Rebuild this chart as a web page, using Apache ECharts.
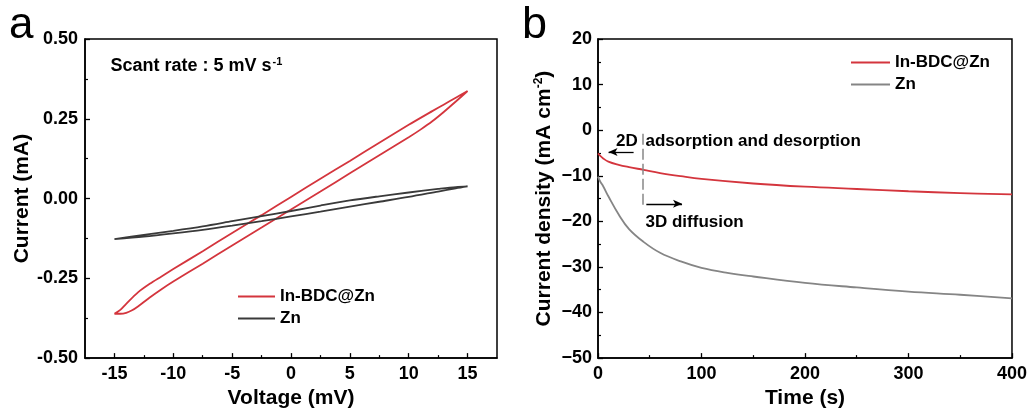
<!DOCTYPE html>
<html>
<head>
<meta charset="utf-8">
<script src="https://cdn.jsdelivr.net/npm/echarts@6/dist/echarts.min.js"></script>
<style>
html,body{margin:0;padding:0;background:#fff;}
#c{width:1030px;height:414px;}
</style>
</head>
<body>
<div id="c"></div>
<script>
// ---------- Panel a : CV loops (Voltage mV, Current mA) ----------
const cvInBDC_V = [-15,-14.5,-14,-13.5,-13,-12,-11,-10,-7.5,-5,-2.5,0,2.5,5,7.5,10,11,12,13,14,15,
                   14,13,12,10,7.5,5,2.5,0,-2.5,-5,-7.5,-10,-11,-12,-13,-14,-14.5,-15];
const cvInBDC_I = [-0.361,-0.361,-0.358,-0.350,-0.338,-0.310,-0.284,-0.260,-0.204,-0.147,-0.091,-0.034,0.022,0.079,0.136,0.192,0.216,0.242,0.272,0.304,0.337,
                   0.316,0.295,0.274,0.231,0.175,0.118,0.062,0.005,-0.052,-0.108,-0.165,-0.221,-0.244,-0.267,-0.294,-0.330,-0.349,-0.361];
const cvZn_V = [-15,-12.5,-10,-7.5,-5,-2.5,0,2.5,5,7.5,10,12.5,14,15,
                14,12.5,10,7.5,5,2.5,0,-2.5,-5,-7.5,-10,-12.5,-15];
const cvZn_I = [-0.127,-0.119,-0.109,-0.098,-0.085,-0.071,-0.056,-0.041,-0.025,-0.010,0.005,0.022,0.032,0.038,
                0.036,0.030,0.019,0.007,-0.006,-0.022,-0.039,-0.055,-0.071,-0.087,-0.101,-0.114,-0.127];
const xTicksA = [-15,-10,-5,0,5,10,15];
const xMinorA = [-12.5,-7.5,-2.5,2.5,7.5,12.5];

// ---------- Panel b : chronoamperometry (Time s, current density mA cm-2) ----------
const tInBDC = [0,2,5,10,20,30,44,60,80,100,150,200,250,300,350,400];
const jInBDC = [-5.1,-5.6,-6.2,-6.9,-7.6,-8.1,-8.7,-9.4,-10.1,-10.7,-11.7,-12.4,-12.9,-13.4,-13.8,-14.1];
const tZn = [0,2,5,10,20,30,44,60,80,100,125,150,200,250,300,350,400];
const jZn = [-10.2,-11.2,-12.3,-14.5,-18.5,-21.7,-24.5,-26.9,-28.8,-30.2,-31.3,-32.1,-33.5,-34.5,-35.4,-36.1,-36.9];

// annotation anchors (data coordinates)
const splitTime = 43.5;
const dashRange = [-0.8, -17.2];
const arrowLeft = [[34.4,-4.8],[10.2,-4.8]];
const arrowRight = [[46.7,-16.15],[81.2,-16.15]];

const RED = '#d4353d';
const DARK = '#3a3a3a';
const GRAY = '#858585';
const FONT = 'Liberation Sans, Arial, Helvetica, sans-serif';

const zip = (a,b) => a.map((v,i)=>[v,b[i]]);

const tickLbl = {color:'#000', fontSize:18, fontWeight:'bold', fontFamily:FONT};
const nameStyle = {color:'#000', fontSize:21, fontWeight:'bold', fontFamily:FONT};
const axLine = {show:true, onZero:false, lineStyle:{color:'#000', width:1.5}};

const chart = echarts.init(document.getElementById('c'), null, {renderer:'canvas'});
const option = {
  animation:false,
  backgroundColor:'#fff',
  textStyle:{fontFamily:FONT},
  grid:[
    {left:85, right:533, top:39, bottom:52, show:true, borderColor:'#000', borderWidth:1.5, backgroundColor:'transparent'},
    {left:598, right:18, top:39, bottom:52, show:true, borderColor:'#000', borderWidth:1.5, backgroundColor:'transparent'}
  ],
  xAxis:[
    {gridIndex:0, type:'value', min:-17.5, max:17.5, position:'bottom',
     axisLine:axLine,
     axisTick:{show:true, inside:true, length:5, customValues:xTicksA, lineStyle:{color:'#000', width:1.3}},
     axisLabel:{customValues:xTicksA, margin:7, ...tickLbl},
     splitLine:{show:false},
     name:'Voltage (mV)', nameLocation:'middle', nameGap:25, nameTextStyle:nameStyle},
    {gridIndex:0, type:'value', min:-17.5, max:17.5, position:'bottom',
     axisLine:{show:false, onZero:false},
     axisTick:{show:true, inside:true, length:3, customValues:xMinorA, lineStyle:{color:'#000', width:1.2}},
     axisLabel:{show:false}, splitLine:{show:false}},
    {gridIndex:1, type:'value', min:0, max:400, interval:100, position:'bottom',
     axisLine:axLine,
     axisTick:{show:true, inside:true, length:5, lineStyle:{color:'#000', width:1.3}},
     minorTick:{show:true, splitNumber:2, length:3, lineStyle:{color:'#000', width:1.2}},
     axisLabel:{margin:7, ...tickLbl},
     splitLine:{show:false},
     name:'Time (s)', nameLocation:'middle', nameGap:25, nameTextStyle:nameStyle}
  ],
  yAxis:[
    {gridIndex:0, type:'value', min:-0.5, max:0.5, interval:0.25,
     axisLine:axLine,
     axisTick:{show:true, inside:true, length:5, lineStyle:{color:'#000', width:1.3}},
     minorTick:{show:true, splitNumber:2, length:3, lineStyle:{color:'#000', width:1.2}},
     axisLabel:{margin:7, formatter:v=>v.toFixed(2), ...tickLbl},
     splitLine:{show:false},
     name:'Current (mA)', nameLocation:'middle', nameGap:51, nameRotate:90, nameTextStyle:nameStyle},
    {gridIndex:1, type:'value', min:-50, max:20, interval:10,
     axisLine:axLine,
     axisTick:{show:true, inside:true, length:5, lineStyle:{color:'#000', width:1.3}},
     minorTick:{show:true, splitNumber:2, length:3, lineStyle:{color:'#000', width:1.2}},
     axisLabel:{margin:6, formatter:v=>String(v).replace('-', '\u2212'), ...tickLbl},
     splitLine:{show:false},
     name:'Current density (mA cm{sup|-2})', nameLocation:'middle', nameGap:42, nameRotate:90,
     nameTextStyle:{...nameStyle, rich:{sup:{fontSize:12, fontWeight:'bold', color:'#000', fontFamily:FONT, padding:[0,0,11,0]}}}}
  ],
  legend:[
    {data:['In-BDC@Zn','Zn'], orient:'vertical', left:233, top:283, icon:'rect', itemWidth:37, itemHeight:2, itemGap:5,
     selectedMode:false, formatter:n=>n.trim(), textStyle:{color:'#000', fontSize:17, fontWeight:'bold', fontFamily:FONT}},
    {data:['In-BDC@Zn ','Zn '], orient:'vertical', left:846, top:49, icon:'rect', itemWidth:39, itemHeight:2, itemGap:5,
     selectedMode:false, formatter:n=>n.trim(), textStyle:{color:'#000', fontSize:17, fontWeight:'bold', fontFamily:FONT}}
  ],
  series:[
    {type:'line', name:'In-BDC@Zn', xAxisIndex:0, yAxisIndex:0, data:zip(cvInBDC_V, cvInBDC_I),
     symbol:'none', smooth:0.3, lineStyle:{color:RED, width:1.8}, itemStyle:{color:RED}},
    {type:'line', name:'Zn', xAxisIndex:0, yAxisIndex:0, data:zip(cvZn_V, cvZn_I),
     symbol:'none', smooth:0.3, lineStyle:{color:DARK, width:1.8}, itemStyle:{color:DARK}},
    {type:'line', name:'In-BDC@Zn ', xAxisIndex:2, yAxisIndex:1, data:zip(tInBDC, jInBDC),
     symbol:'none', smooth:0.4, lineStyle:{color:RED, width:1.8}, itemStyle:{color:RED},
     markLine:{silent:true, animation:false, label:{show:false},
       data:[
         [{coord:[splitTime, dashRange[0]], symbol:'none', lineStyle:{color:'#888', width:1.5, type:[11,4]}},
          {coord:[splitTime, dashRange[1]], symbol:'none'}],
         [{coord:arrowLeft[0], symbol:'none', lineStyle:{color:'#000', width:1.3, type:'solid'}},
          {coord:arrowLeft[1], symbol:'arrow', symbolSize:[6,9]}],
         [{coord:arrowRight[0], symbol:'none', lineStyle:{color:'#000', width:1.3, type:'solid'}},
          {coord:arrowRight[1], symbol:'arrow', symbolSize:[6,9]}]
       ]}},
    {type:'line', name:'Zn ', xAxisIndex:2, yAxisIndex:1, data:zip(tZn, jZn),
     symbol:'none', smooth:0.4, lineStyle:{color:GRAY, width:1.8}, itemStyle:{color:GRAY}}
  ],
  graphic:[
    {type:'text', style:{x:9, y:26, text:'a', fontSize:44, fontFamily:FONT, fill:'#000', verticalAlign:'middle'}},
    {type:'text', style:{x:522, y:26, text:'b', fontSize:45, fontFamily:FONT, fill:'#000', verticalAlign:'middle'}},
    {type:'text', style:{x:110.5, y:66.5, text:'{m|Scant rate : 5 mV s}{s|-1}', fill:'#000', verticalAlign:'middle',
      rich:{m:{fontSize:18, fontWeight:'bold', fontFamily:FONT, fill:'#000'},
            s:{fontSize:11, fontWeight:'bold', fontFamily:FONT, fill:'#000', padding:[0,0,10,1]}}}},
    {type:'text', style:{x:616, y:141.7, text:'2D', fontSize:17, fontWeight:'bold', fontFamily:FONT, fill:'#000', verticalAlign:'middle'}},
    {type:'text', style:{x:645.5, y:141.7, text:'adsorption and desorption', fontSize:17, fontWeight:'bold', fontFamily:FONT, fill:'#000', verticalAlign:'middle'}},
    {type:'text', style:{x:645.5, y:222.7, text:'3D diffusion', fontSize:17, fontWeight:'bold', fontFamily:FONT, fill:'#000', verticalAlign:'middle'}}
  ]
};
chart.setOption(option);
</script>
</body>
</html>
